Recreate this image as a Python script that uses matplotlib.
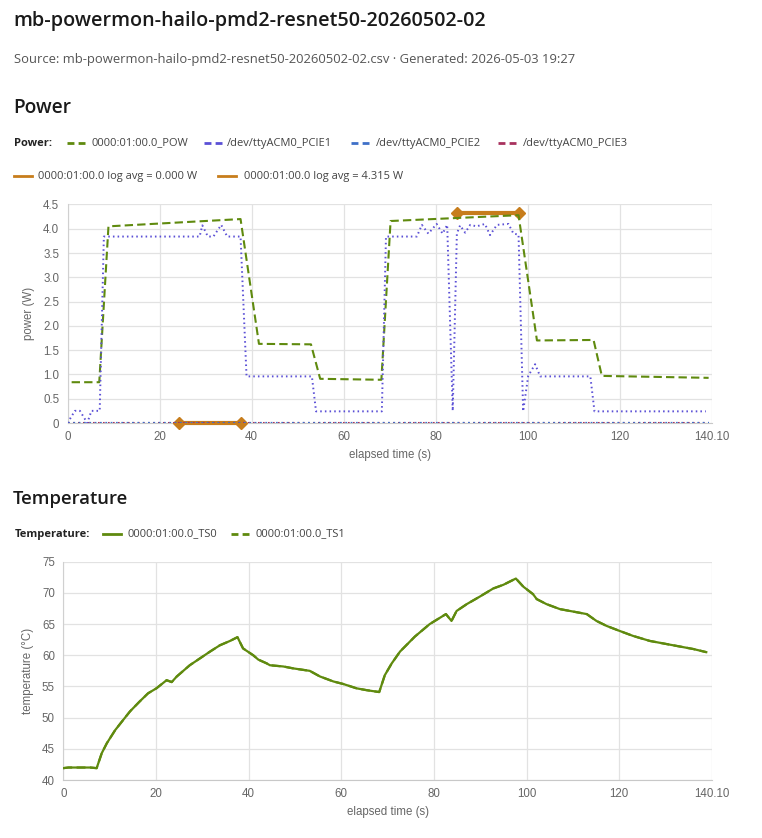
import matplotlib
matplotlib.use("Agg")
import matplotlib.pyplot as plt
from matplotlib.lines import Line2D

# power trace (W)
pow_t = [0.9, 6.9, 8.9, 37.6, 41.6, 52.9, 54.9, 68.2, 70.2, 98.0, 102.0, 114.3, 116.1, 139.3]
pow_w = [0.84, 0.84, 4.05, 4.20, 1.63, 1.62, 0.91, 0.89, 4.16, 4.28, 1.70, 1.71, 0.97, 0.93]

pcie1_t = [0.0, 1.6, 2.7, 4.3, 5.2, 7.0, 7.9, 28.7, 29.3, 30.5, 31.7, 33.4, 34.7, 37.6, 38.9,
           53.1, 54.0, 68.3, 69.2, 75.9, 77.0, 78.4, 80.2, 81.5, 82.5, 83.7, 84.6, 85.3, 86.4,
           87.5, 88.9, 90.7, 91.8, 93.3, 95.8, 96.9, 98.0, 99.0, 100.1, 101.6, 102.7, 113.6,
           114.5, 138.7]
pcie1_w = [0.0, 0.25, 0.25, 0.0, 0.25, 0.25, 3.84, 3.84, 4.07, 3.84, 3.84, 4.08, 3.84, 3.84, 0.96,
           0.96, 0.24, 0.24, 3.84, 3.84, 4.08, 3.90, 4.10, 3.90, 4.08, 0.25, 3.90, 4.07, 3.92,
           4.08, 4.05, 4.10, 3.87, 4.08, 4.10, 3.90, 3.88, 0.24, 0.97, 1.21, 0.96, 0.96,
           0.24, 0.24]

zero_t = [0.0, 139.3]
zero_w = [0.0, 0.0]

avg1_t = [24.3, 37.6]
avg1_w = [0.0, 0.0]
avg2_t = [84.6, 98.1]
avg2_w = [4.315, 4.315]

# temperature (deg C)
temp_t = [0.0, 1.1, 5.8, 7.2, 8.3, 9.4, 11.2, 12.9, 14.4, 16.5, 18.3, 20.1, 22.3, 23.4, 24.5,
          27.3, 29.5, 31.7, 33.8, 36.0, 37.6, 38.8, 41.0, 42.1, 43.9, 44.6, 47.5, 49.6, 53.2,
          55.4, 58.3, 60.4, 63.3, 65.5, 68.2, 69.4, 70.9, 72.7, 75.9, 79.1, 82.6, 83.8, 84.9,
          87.1, 89.9, 92.8, 95.0, 97.7, 99.3, 101.4, 102.2, 104.3, 107.2, 110.1, 113.0, 115.1,
          117.3, 120.1, 123.0, 126.6, 130.2, 133.1, 136.0, 138.8]
ts0 = [41.9, 42.0, 42.0, 41.9, 44.3, 45.9, 48.0, 49.6, 51.0, 52.6, 53.9, 54.7, 56.0, 55.7, 56.6,
       58.4, 59.5, 60.6, 61.6, 62.3, 62.9, 61.1, 60.0, 59.3, 58.7, 58.4, 58.2, 57.9, 57.5,
       56.6, 55.8, 55.4, 54.7, 54.4, 54.1, 56.8, 58.7, 60.6, 63.0, 65.0, 66.6, 65.5, 67.1,
       68.2, 69.4, 70.7, 71.3, 72.3, 71.0, 69.8, 69.0, 68.2, 67.4, 67.0, 66.6, 65.5,
       64.7, 63.9, 63.1, 62.3, 61.8, 61.4, 61.0, 60.5]
ts1 = ts0

x_ticks = [0, 20, 40, 60, 80, 100, 120, 140.1]
x_labels = ["0", "20", "40", "60", "80", "100", "120", "140.10"]
pow_ticks = [0, 0.5, 1.0, 1.5, 2.0, 2.5, 3.0, 3.5, 4.0, 4.5]
pow_labels = ["0", "0.5", "1.0", "1.5", "2.0", "2.5", "3.0", "3.5", "4.0", "4.5"]
temp_ticks = [40, 45, 50, 55, 60, 65, 70, 75]

GREEN = "#5f8a0e"
PURPLE = "#5b50d6"
BLUE = "#3f70c8"
RED = "#a8325e"
ORANGE = "#c77d1c"
GRID = "#e2e2e2"
TICK = "#666666"
DASH = (0, (4, 2))
DOT = (0, (0.8, 1.6))
SW_DASH = (0, (2.5, 1.5))

W, H = 762, 838
fig = plt.figure(figsize=(W / 100, H / 100), dpi=100)
ui = ["Open Sans", "DejaVu Sans"]
chart = ["Liberation Sans", "DejaVu Sans"]


def fx(px):
    return px / W


def fy(py):
    return 1 - py / H


def style_axes(ax, ylabel):
    ax.set_xlim(0, 140.1)
    ax.set_xticks(x_ticks)
    ax.set_xticklabels(x_labels)
    ax.grid(True, color=GRID, linewidth=0.9)
    ax.set_axisbelow(True)
    for s in ["top", "right"]:
        ax.spines[s].set_visible(False)
    ax.spines["left"].set_color("#d0d0d0")
    ax.spines["bottom"].set_color("#c8c8c8")
    ax.tick_params(length=0, pad=6, colors=TICK, labelsize=8.3)
    for lab in ax.get_xticklabels() + ax.get_yticklabels():
        lab.set_family(chart)
    ax.set_xlabel("elapsed time (s)", color=TICK, fontsize=8.3, family=chart, labelpad=4)
    ax.set_ylabel(ylabel, color=TICK, fontsize=8.3, family=chart, labelpad=6)


def swatch(x0, x1, y, color, ls, lw=2.0):
    fig.add_artist(Line2D([fx(x0), fx(x1)], [fy(y), fy(y)], color=color,
                          linestyle=ls, linewidth=lw, transform=fig.transFigure))


# headings
fig.text(fx(13), fy(21), "mb-powermon-hailo-pmd2-resnet50-20260502-02", fontsize=14.2,
         fontweight="semibold", family=ui, color="#1a1a1a", va="center")
fig.text(fx(14), fy(60), "Source: mb-powermon-hailo-pmd2-resnet50-20260502-02.csv · Generated: 2026-05-03 19:27",
         fontsize=9.4, family=ui, color="#555555", va="center")
fig.text(fx(13), fy(108), "Power", fontsize=13.8, fontweight="semibold", family=ui,
         color="#1a1a1a", va="center")
fig.text(fx(13), fy(499), "Temperature", fontsize=13.3, fontweight="semibold", family=ui,
         color="#1a1a1a", va="center")

# power legend
ly = 143
fig.text(fx(14), fy(ly), "Power:", fontsize=8, fontweight="bold", family=ui, color="#222", va="center")
items = [(67, 91, GREEN, "0000:01:00.0_POW"),
         (204, 227, PURPLE, "/dev/ttyACM0_PCIE1"),
         (351, 376, BLUE, "/dev/ttyACM0_PCIE2"),
         (498, 523, RED, "/dev/ttyACM0_PCIE3")]
for sx, tx, c, name in items:
    swatch(sx, sx + 18, ly, c, SW_DASH)
    fig.text(fx(tx), fy(ly), name, fontsize=8, family=ui, color="#444", va="center")
ly2 = 176
for sx, tx, name in [(14, 38, "0000:01:00.0 log avg = 0.000 W"),
                     (218, 244, "0000:01:00.0 log avg = 4.315 W")]:
    swatch(sx, sx + 18, ly2, ORANGE, "-")
    fig.text(fx(tx), fy(ly2), name, fontsize=8, family=ui, color="#444", va="center")

# power chart
ax1 = fig.add_axes([fx(67.5), fy(423), fx(712.3) - fx(67.5), fy(204.5) - fy(423)])
ax1.set_ylim(0, 4.5)
ax1.set_yticks(pow_ticks)
ax1.set_yticklabels(pow_labels)
ax1.plot(pow_t, pow_w, color=GREEN, linestyle=DASH, linewidth=1.5, zorder=4)
ax1.plot(avg1_t, avg1_w, color=ORANGE, linewidth=3, marker="D", markersize=6, zorder=3, clip_on=False)
ax1.plot(avg2_t, avg2_w, color=ORANGE, linewidth=3, marker="D", markersize=6, zorder=3, clip_on=False)
ax1.plot(zero_t, zero_w, color=RED, linestyle=DOT, linewidth=1.5, zorder=4)
ax1.plot(zero_t, zero_w, color=BLUE, linestyle=DOT, linewidth=1.6, zorder=4)
ax1.plot(pcie1_t, pcie1_w, color=PURPLE, linestyle=DOT, linewidth=1.4, zorder=5)
style_axes(ax1, "power (W)")

# temperature legend
ty = 534
fig.text(fx(15), fy(ty), "Temperature:", fontsize=8, fontweight="bold", family=ui, color="#222", va="center")
swatch(103, 121, ty, GREEN, "-")
fig.text(fx(128), fy(ty), "0000:01:00.0_TS0", fontsize=8, family=ui, color="#444", va="center")
swatch(231, 249, ty, GREEN, SW_DASH)
fig.text(fx(255), fy(ty), "0000:01:00.0_TS1", fontsize=8, family=ui, color="#444", va="center")

# temperature chart
ax2 = fig.add_axes([fx(63.3), fy(780), fx(712.3) - fx(63.3), fy(561.7) - fy(780)])
ax2.set_ylim(40, 75)
ax2.set_yticks(temp_ticks)
ax2.plot(temp_t, ts0, color=GREEN, linewidth=1.6, zorder=3)
ax2.plot(temp_t, ts1, color=GREEN, linestyle=DASH, linewidth=1.6, zorder=4)
style_axes(ax2, "temperature (°C)")

fig.savefig("out.png", dpi=100, facecolor="white")
